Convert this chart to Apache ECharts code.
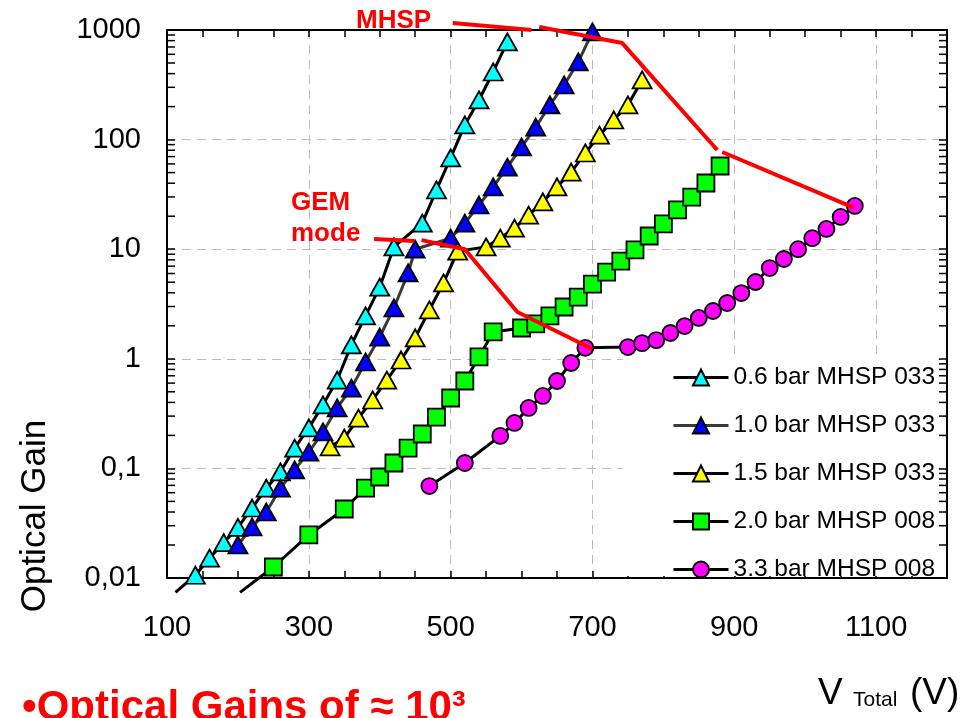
<!DOCTYPE html>
<html>
<head>
<meta charset="utf-8">
<script src="https://cdn.jsdelivr.net/npm/echarts@6/dist/echarts.min.js"></script>
<style>html,body{margin:0;padding:0;background:#fff}#c{width:967px;height:718px}</style>
</head>
<body>
<div id="c"></div>
<script>
// ---- tick labels ----
const xTickLabels = ['100', '300', '500', '700', '900', '1100'];
const yTickLabels = ['0,01', '0,1', '1', '10', '100', '1000'];
const minorMultipliers = [2, 3, 4, 5, 6, 7, 8, 9];
const decades = [0.01, 0.1, 1, 10, 100];

// ---- series names ----
const seriesNames = ['0.6 bar MHSP 033', '1.0 bar MHSP 033', '1.5 bar MHSP 033', '2.0 bar MHSP 008', '3.3 bar MHSP 008'];

// ---- 0.6 bar MHSP 033 (first point: line continues below the axis, no marker) ----
const v06 = [112, 140, 160, 180, 200, 220, 240, 260, 280, 300, 320, 340, 360, 380, 400, 420, 460, 480, 500, 520, 540, 560, 580];
const g06 = [0.0074, 0.0106, 0.0152, 0.021, 0.029, 0.0435, 0.066, 0.093, 0.153, 0.234, 0.38, 0.64, 1.34, 2.46, 4.5, 10.5, 17.3, 34.7, 68, 136, 230, 414, 778];

// ---- 1.0 bar MHSP 033 ----
const v10 = [200, 220, 240, 260, 280, 300, 320, 340, 360, 380, 400, 420, 440, 450, 500, 520, 540, 560, 580, 600, 620, 640, 660, 680, 700];
const g10 = [0.020, 0.0292, 0.040, 0.066, 0.097, 0.141, 0.215, 0.356, 0.54, 0.935, 1.58, 2.91, 6.07, 10.0, 12.6, 17.3, 25.3, 37.0, 56, 86, 130, 207, 315, 511, 959];

// ---- 1.5 bar MHSP 033 ----
const v15 = [330, 350, 370, 390, 410, 430, 450, 470, 490, 510, 550, 570, 590, 610, 630, 650, 670, 690, 710, 730, 750, 770];
const g15 = [0.157, 0.189, 0.288, 0.421, 0.64, 0.975, 1.55, 2.79, 4.92, 9.6, 10.5, 12.6, 15.6, 20.5, 27.0, 37.0, 50.6, 75.5, 110, 151, 207, 350];

// ---- 2.0 bar MHSP 008 (first point: line continues below the axis, no marker) ----
const v20 = [203, 250, 300, 350, 380, 400, 420, 440, 460, 480, 500, 520, 540, 560, 600, 620, 640, 660, 680, 700, 720, 740, 760, 780, 800, 820, 840, 860, 880];
const g20 = [0.0074, 0.0126, 0.0247, 0.0426, 0.066, 0.0835, 0.112, 0.153, 0.206, 0.294, 0.439, 0.627, 1.04, 1.76, 1.91, 2.08, 2.46, 2.97, 3.66, 4.81, 6.19, 7.80, 9.84, 13.2, 17.0, 22.8, 29.9, 40.2, 57.4];

// ---- 3.3 bar MHSP 008 ----
const v33 = [470, 520, 570, 590, 610, 630, 650, 670, 690, 750, 770, 790, 810, 830, 850, 870, 890, 910, 930, 950, 970, 990, 1010, 1030, 1050, 1070];
const g33 = [0.069, 0.112, 0.198, 0.26, 0.356, 0.458, 0.627, 0.916, 1.26, 1.28, 1.39, 1.48, 1.72, 1.99, 2.36, 2.73, 3.23, 3.98, 5.02, 6.73, 8.14, 10.0, 12.6, 15.3, 19.7, 24.8];

// ---- red annotation lines (MHSP and GEM mode), drawn in pieces ----
const vMhspA = [503, 614];
const gMhspA = [1158, 1000];
const vMhspB = [625, 742, 876];
const gMhspB = [1065, 760, 80.4];
const vMhspC = [883, 1069];
const gMhspC = [77.1, 23.8];
const vGemA = [392, 449];
const gGemA = [12.4, 11.9];
const vGemB = [459, 520, 594, 700];
const gGemB = [12.1, 10.0, 2.67, 1.23];

const X_MIN = 100, X_MAX = 1200;
const FONT = '"Liberation Sans", Arial, sans-serif';

const chart = echarts.init(document.getElementById('c'), null, {renderer: 'canvas'});

function dataSeries(name, xs, ys, symbol, size, fill, lineColor, firstHidden) {
  const data = xs.map((x, i) => (firstHidden && i === 0) ? {value: [x, ys[i]], symbol: 'none'} : [x, ys[i]]);
  return {
    name: name, type: 'line', data: data,
    symbol: symbol, symbolSize: size, showSymbol: true, showAllSymbol: true,
    itemStyle: {color: fill, borderColor: '#000', borderWidth: 1.8},
    lineStyle: {color: lineColor, width: 3},
    emphasis: {disabled: true}, clip: false, z: 3
  };
}
function redSeries(xs, ys) {
  return {
    type: 'line', data: xs.map((x, i) => [x, ys[i]]), symbol: 'none', clip: false,
    lineStyle: {color: '#ff0000', width: 4}, emphasis: {disabled: true}, z: 5, silent: true
  };
}

const minorTickValues = [];
decades.forEach(d => minorMultipliers.forEach(m => minorTickValues.push(d * m)));

const axisLineStyle = {color: '#000', width: 2};
const tickStyle = {color: '#000', width: 1.5};

const option = {
  animation: false,
  backgroundColor: '#fff',
  grid: {left: 167, right: 20, top: 30, bottom: 140, containLabel: false},
  xAxis: [
    {
      type: 'value', min: X_MIN, max: X_MAX, interval: 200, position: 'bottom',
      axisLine: {show: true, onZero: false, lineStyle: axisLineStyle},
      axisTick: {show: true, inside: true, length: 7, lineStyle: tickStyle},
      minorTick: {show: true, splitNumber: 4, length: 7, lineStyle: tickStyle},
      splitLine: {show: true, lineStyle: {color: '#bdbdbd', width: 1, type: [9, 6]}},
      axisLabel: {
        show: true, margin: 35, fontSize: 29, color: '#000', fontFamily: FONT, showMaxLabel: false,
        formatter: v => xTickLabels[Math.round((v - X_MIN) / 200)] || ''
      }
    },
    {
      type: 'value', min: X_MIN, max: X_MAX, interval: 200, position: 'top',
      axisLine: {show: true, onZero: false, lineStyle: axisLineStyle},
      axisTick: {show: true, inside: true, length: 7, lineStyle: tickStyle},
      minorTick: {show: true, splitNumber: 4, length: 7, lineStyle: tickStyle},
      splitLine: {show: false}, axisLabel: {show: false}
    }
  ],
  yAxis: [
    {
      type: 'log', logBase: 10, min: 0.01, max: 1000, position: 'left',
      axisLine: {show: true, onZero: false, lineStyle: axisLineStyle},
      axisTick: {show: true, inside: true, length: 8, lineStyle: tickStyle},
      splitLine: {show: true, lineStyle: {color: '#bdbdbd', width: 1, type: [9, 6]}},
      axisLabel: {
        show: true, margin: 26, fontSize: 29, color: '#000', fontFamily: FONT,
        formatter: v => yTickLabels[Math.round(Math.log10(v)) + 2] || ''
      }
    },
    {
      type: 'log', logBase: 10, min: 0.01, max: 1000, position: 'right',
      axisLine: {show: true, onZero: false, lineStyle: axisLineStyle},
      axisTick: {show: true, inside: true, length: 8, lineStyle: tickStyle},
      splitLine: {show: false}, axisLabel: {show: false}
    }
  ],
  legend: {
    data: seriesNames, orient: 'vertical', left: 623, top: 355,
    padding: [10, 8, 0, 49], itemWidth: 55, itemHeight: 20, itemGap: 23,
    selectedMode: false, z: 6,
    lineStyle: {width: 3},
    textStyle: {fontSize: 24.5, color: '#000', fontFamily: FONT}
  },
  series: [
    {
      type: 'custom', silent: true, clip: false, z: 2,
      data: minorTickValues.map(v => [X_MIN, v]),
      renderItem: function (params, api) {
        const v = api.value(1);
        const p1 = api.coord([X_MIN, v]);
        const p2 = api.coord([X_MAX, v]);
        return {type: 'group', children: [
          {type: 'line', shape: {x1: p1[0], y1: p1[1], x2: p1[0] + 8, y2: p1[1]}, style: {stroke: '#000', lineWidth: 1.5}},
          {type: 'line', shape: {x1: p2[0] - 8, y1: p2[1], x2: p2[0], y2: p2[1]}, style: {stroke: '#000', lineWidth: 1.5}}
        ]};
      }
    },
    dataSeries(seriesNames[0], v06, g06, 'triangle', [19, 17], '#00ffff', '#000', true),
    dataSeries(seriesNames[1], v10, g10, 'triangle', [19, 17], '#0000ff', '#3a3a3a', false),
    dataSeries(seriesNames[2], v15, g15, 'triangle', [19, 17], '#ffff00', '#000', false),
    dataSeries(seriesNames[3], v20, g20, 'rect', 17, '#00ff00', '#000', true),
    dataSeries(seriesNames[4], v33, g33, 'circle', 16, '#ff00ff', '#000', false),
    redSeries(vMhspA, gMhspA),
    redSeries(vMhspB, gMhspB),
    redSeries(vMhspC, gMhspC),
    redSeries(vGemA, gGemA),
    redSeries(vGemB, gGemB)
  ],
  graphic: [
    {type: 'rect', silent: true, z: 1, shape: {x: 623, y: 356, width: 315, height: 220}, style: {fill: '#fff'}},
    {type: 'text', silent: true, z: 10, style: {text: 'MHSP', x: 356, y: 21, fill: '#ff0000', font: 'bold 26px ' + FONT, align: 'left', verticalAlign: 'middle', textAlign: 'left', textVerticalAlign: 'middle'}},
    {type: 'text', silent: true, z: 10, style: {text: 'GEM', x: 291, y: 203, fill: '#ff0000', font: 'bold 26px ' + FONT, align: 'left', verticalAlign: 'middle', textAlign: 'left', textVerticalAlign: 'middle'}},
    {type: 'text', silent: true, z: 10, style: {text: 'mode', x: 291, y: 234, fill: '#ff0000', font: 'bold 26px ' + FONT, align: 'left', verticalAlign: 'middle', textAlign: 'left', textVerticalAlign: 'middle'}},
    {type: 'text', silent: true, z: 10, x: 35, y: 516, rotation: Math.PI / 2, style: {text: 'Optical Gain', x: 0, y: 0, fill: '#000', font: '35px ' + FONT, align: 'center', verticalAlign: 'middle', textAlign: 'center', textVerticalAlign: 'middle'}},
    {type: 'text', silent: true, z: 10, style: {text: 'V', x: 818, y: 694, fill: '#000', font: '37px ' + FONT, align: 'left', verticalAlign: 'middle', textAlign: 'left', textVerticalAlign: 'middle'}},
    {type: 'text', silent: true, z: 10, style: {text: 'Total', x: 853, y: 700, fill: '#000', font: '21px ' + FONT, align: 'left', verticalAlign: 'middle', textAlign: 'left', textVerticalAlign: 'middle'}},
    {type: 'text', silent: true, z: 10, style: {text: '(V)', x: 910, y: 694, fill: '#000', font: '37px ' + FONT, align: 'left', verticalAlign: 'middle', textAlign: 'left', textVerticalAlign: 'middle'}},
    {type: 'text', silent: true, z: 10, style: {text: '•Optical Gains of ≈ 10³', x: 22, y: 708, fill: '#ff0000', font: 'bold 42px ' + FONT, align: 'left', verticalAlign: 'middle', textAlign: 'left', textVerticalAlign: 'middle'}}
  ]
};
chart.setOption(option);
</script>
</body>
</html>
